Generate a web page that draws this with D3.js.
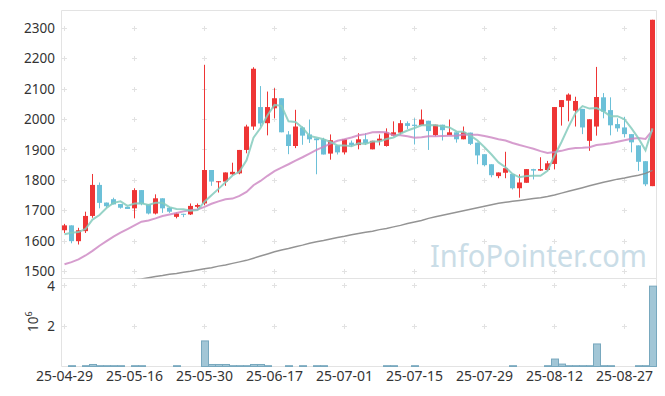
<!DOCTYPE html>
<html>
<head>
<meta charset="utf-8">
<script src="https://cdn.jsdelivr.net/npm/d3@7"></script>
<style>
  body { margin: 0; background: #fff; }
  text { font-family: "Noto Sans", sans-serif; fill: #333; }
</style>
</head>
<body>
<div id="chart"></div>
<script>
// trading days (yy-mm-dd)
var dates = ["25-04-29","25-04-30","25-05-02","25-05-07","25-05-08","25-05-09","25-05-12","25-05-13","25-05-14","25-05-15",
  "25-05-16","25-05-19","25-05-20","25-05-21","25-05-22","25-05-23","25-05-26","25-05-27","25-05-28","25-05-29",
  "25-05-30","25-06-02","25-06-04","25-06-05","25-06-09","25-06-10","25-06-11","25-06-12","25-06-13","25-06-16",
  "25-06-17","25-06-18","25-06-19","25-06-20","25-06-23","25-06-24","25-06-25","25-06-26","25-06-27","25-06-30",
  "25-07-01","25-07-02","25-07-03","25-07-04","25-07-07","25-07-08","25-07-09","25-07-10","25-07-11","25-07-14",
  "25-07-15","25-07-16","25-07-17","25-07-18","25-07-21","25-07-22","25-07-23","25-07-24","25-07-25","25-07-28",
  "25-07-29","25-07-30","25-07-31","25-08-01","25-08-04","25-08-05","25-08-06","25-08-07","25-08-08","25-08-11",
  "25-08-12","25-08-13","25-08-14","25-08-18","25-08-19","25-08-20","25-08-21","25-08-22","25-08-25","25-08-26",
  "25-08-27","25-08-28","25-08-29","25-09-01","25-09-02"];

var opens = [1636,1652,1600,1633,1683,1785,1727,1738,1722,1713,
  1708,1768,1721,1691,1741,1710,1680,1690,1688,1713,
  1724,1834,1795,1796,1820,1823,1900,1977,2041,1988,
  2037,2070,1951,1913,1974,1951,1938,1935,1888,1915,
  1892,1924,1916,1935,1902,1930,1913,1947,1957,1988,
  1983,1981,1996,1949,1983,1949,1958,1935,1957,1924,
  1886,1853,1814,1825,1821,1774,1792,1837,1832,1834,
  1854,2041,2062,2029,2035,1930,1977,2073,2031,1985,
  1974,1952,1915,1863,1781];
var highs = [1657,1652,1644,1697,1821,1793,1727,1743,1722,1713,
  1774,1768,1721,1754,1741,1712,1694,1690,1724,1724,
  2180,1834,1797,1826,1858,1900,1983,2172,2110,2092,
  2103,2070,1962,2032,1977,2000,1938,1940,1951,1915,
  1935,1931,1955,1955,1930,1951,1971,1994,1998,1994,
  2004,2033,1996,1983,1983,2000,1958,1977,1957,1924,
  1886,1853,1826,1894,1821,1820,1837,1838,1876,1864,
  2041,2064,2086,2075,2035,2001,2173,2087,2073,2004,
  2009,1952,1915,1863,2328];
var lows = [1627,1593,1589,1627,1677,1708,1711,1721,1707,1706,
  1675,1718,1688,1688,1693,1693,1675,1679,1686,1708,
  1718,1782,1760,1782,1817,1820,1889,1966,1977,1948,
  2004,1958,1886,1906,1917,1923,1820,1885,1868,1885,
  1885,1911,1902,1916,1902,1915,1911,1945,1951,1969,
  1918,1980,1900,1945,1931,1949,1924,1935,1916,1853,
  1846,1810,1807,1807,1770,1743,1792,1803,1831,1831,
  1836,1980,1994,1977,1952,1897,1947,2004,1948,1960,
  1941,1892,1831,1781,1781];
var closes = [1652,1600,1636,1683,1785,1726,1715,1721,1710,1706,
  1768,1722,1691,1741,1708,1697,1691,1688,1716,1719,
  1834,1796,1797,1826,1828,1900,1977,2167,1987,2041,
  2070,1958,1913,1977,1947,1935,1932,1885,1932,1892,
  1935,1916,1935,1922,1930,1937,1957,1958,1988,1979,
  1979,2000,1962,1983,1965,1958,1935,1958,1920,1882,
  1850,1817,1826,1840,1774,1793,1837,1832,1837,1856,
  2041,2064,2082,2061,1974,2001,2074,2026,1981,1971,
  1952,1925,1861,1787,2328];

// moving averages as drawn
var ma5 = [1623,1628,1630,1640,1671,1686,1709,1726,1731,1716,
  1724,1725,1719,1726,1726,1712,1706,1705,1700,1702,
  1730,1751,1772,1794,1816,1829,1866,1940,1972,2014,
  2048,2045,1994,1992,1973,1946,1941,1935,1926,1915,
  1915,1912,1922,1920,1928,1928,1936,1941,1954,1964,
  1972,1981,1982,1981,1978,1974,1961,1960,1947,1931,
  1909,1885,1859,1843,1821,1810,1814,1815,1815,1831,
  1881,1926,1976,2021,2044,2036,2038,2027,2011,2011,
  2001,1971,1938,1899,1971];
var ma20 = [1524,1531,1540,1553,1568,1585,1600,1615,1628,1640,
  1652,1664,1668,1675,1683,1688,1693,1698,1702,1704,
  1713,1723,1731,1738,1740,1749,1762,1784,1798,1815,
  1830,1842,1853,1865,1876,1888,1900,1910,1921,1930,
  1935,1941,1948,1952,1958,1959,1958,1948,1948,1945,
  1940,1942,1945,1945,1946,1947,1947,1951,1950,1950,
  1946,1941,1935,1931,1923,1916,1910,1904,1896,1890,
  1893,1897,1903,1906,1907,1909,1916,1919,1922,1927,
  1932,1937,1939,1936,1964];
var ma60 = [1437,1440,1444,1448,1451,1455,1458,1462,1466,1469,
  1473,1476,1480,1484,1487,1491,1494,1498,1501,1505,
  1509,1513,1518,1522,1527,1532,1537,1544,1551,1558,
  1565,1571,1576,1582,1587,1593,1598,1602,1607,1612,
  1616,1621,1625,1629,1633,1638,1642,1647,1652,1658,
  1663,1668,1675,1680,1685,1690,1695,1700,1705,1710,
  1715,1720,1725,1728,1731,1734,1737,1740,1743,1747,
  1752,1758,1764,1770,1776,1782,1788,1794,1799,1804,
  1808,1813,1817,1823,1833];

var volumes = [0,40000,0,40000,100000,40000,40000,40000,40000,0,
  40000,40000,0,0,0,0,40000,0,0,0,
  1270000,100000,100000,100000,40000,40000,40000,100000,100000,40000,
  0,0,40000,0,40000,0,40000,40000,0,0,
  0,0,0,0,0,0,40000,40000,0,0,
  40000,0,0,0,0,0,0,0,0,0,
  0,0,0,0,40000,0,0,0,0,40000,
  370000,120000,40000,40000,40000,40000,1120000,40000,40000,0,
  0,0,40000,40000,3990000];

var priceTicks = [1500,1600,1700,1800,1900,2000,2100,2200,2300];
var volTicks = [2,4];
var dateTicks = ["25-04-29","25-05-16","25-05-30","25-06-17","25-07-01","25-07-15","25-07-29","25-08-12","25-08-27"];

var width = 665,
    height = 396,
    plotLeft = 61.5,
    plotRight = 656.5,
    plotTop = 10.5,
    plotMid = 278.5,
    plotBottom = 366.5;

var rows = dates.map(function(d, i) {
  return {date: d, o: opens[i], h: highs[i], l: lows[i], c: closes[i], v: volumes[i],
          m5: ma5[i], m20: ma20[i], m60: ma60[i]};
});

var svg = d3.select("#chart")
    .append("svg")
    .attr("width", width)
    .attr("height", height);

var x = d3.scaleBand().domain(dates).range([61, 656]).padding(0);
var cx = function(d) { return x(d) + x.bandwidth() / 2; };

var y = d3.scaleLinear().domain([1477.3, 2358.5]).range([plotMid, plotTop]);
var yv = d3.scaleLinear().domain([0, 4.37]).range([plotBottom, plotMid]);

svg.append("defs").append("clipPath").attr("id", "clipPrice")
  .append("rect").attr("x", plotLeft).attr("y", plotTop)
  .attr("width", plotRight - plotLeft).attr("height", plotMid - plotTop);

// frame
var frame = svg.append("g").attr("stroke", "#e3e3e3").attr("stroke-width", 1);
frame.append("line").attr("x1", plotLeft).attr("x2", plotRight).attr("y1", plotTop).attr("y2", plotTop);
frame.append("line").attr("x1", plotLeft).attr("x2", plotRight).attr("y1", plotMid).attr("y2", plotMid);
frame.append("line").attr("x1", plotLeft).attr("x2", plotRight).attr("y1", plotBottom).attr("y2", plotBottom);
frame.append("line").attr("x1", plotLeft).attr("x2", plotLeft).attr("y1", plotTop).attr("y2", plotBottom);
frame.append("line").attr("x1", plotRight).attr("x2", plotRight).attr("y1", plotTop).attr("y2", plotBottom);

// grid crosses
var crossY = priceTicks.map(function(t) { return y(t); })
  .concat(volTicks.map(function(t) { return yv(t); }));
var crosses = [];
dateTicks.forEach(function(dt) {
  crossY.forEach(function(py) { crosses.push([cx(dt), py]); });
});
var grid = svg.append("g").attr("stroke", "#e2e2e2").attr("stroke-width", 1);
grid.selectAll("path.cross")
  .data(crosses).enter()
  .append("path")
  .attr("class", "cross")
  .attr("d", function(d) {
    var px = Math.round(d[0] - 0.5) + 0.5, py = Math.round(d[1] - 0.5) + 0.5;
    return "M" + (px - 2.5) + "," + py + "H" + (px + 2.5) + "M" + px + "," + (py - 2.5) + "V" + (py + 2.5);
  });

// watermark
svg.append("text")
  .attr("x", 430)
  .attr("y", 267)
  .attr("textLength", 217)
  .attr("lengthAdjust", "spacingAndGlyphs")
  .style("font-size", "31px")
  .style("fill", "#cadde7")
  .text("InfoPointer.com");

// candles
var up = "#ee3535", down = "#6cc0d8";
var candle = svg.append("g").attr("clip-path", "url(#clipPrice)")
  .selectAll("g.candle")
  .data(rows).enter()
  .append("g")
  .attr("class", "candle");

candle.append("line")
  .attr("x1", function(d) { return cx(d.date); })
  .attr("x2", function(d) { return cx(d.date); })
  .attr("y1", function(d) { return y(d.h); })
  .attr("y2", function(d) { return y(d.l); })
  .attr("stroke", function(d) { return d.c >= d.o ? up : down; })
  .attr("stroke-width", 1);

candle.append("rect")
  .attr("x", function(d) { return cx(d.date) - 2.5; })
  .attr("width", 5)
  .attr("y", function(d) { return y(Math.max(d.o, d.c)); })
  .attr("height", function(d) { return Math.max(1, Math.abs(y(d.o) - y(d.c))); })
  .attr("fill", function(d) { return d.c >= d.o ? up : down; });

// moving averages
var lines = svg.append("g").attr("clip-path", "url(#clipPrice)").attr("fill", "none");
function maLine(key) {
  return d3.line()
    .x(function(d) { return cx(d.date); })
    .y(function(d) { return y(d[key]); });
}
lines.append("path").datum(rows).attr("d", maLine("m60"))
  .attr("stroke", "#888").attr("stroke-width", 1.5).attr("stroke-opacity", 0.9);
lines.append("path").datum(rows).attr("d", maLine("m20"))
  .attr("stroke", "#cc84c2").attr("stroke-width", 2).attr("stroke-opacity", 0.8);
lines.append("path").datum(rows).attr("d", maLine("m5"))
  .attr("stroke", "#85cbbd").attr("stroke-width", 2).attr("stroke-opacity", 0.85);

// volume bars
svg.append("g")
  .selectAll("rect")
  .data(rows.filter(function(d) { return d.v > 0; })).enter()
  .append("rect")
  .attr("x", function(d) { return x(d.date) + 0.5; })
  .attr("width", x.bandwidth())
  .attr("y", function(d) { return yv(d.v / 1e6); })
  .attr("height", function(d) { return plotBottom - yv(d.v / 1e6); })
  .attr("fill", "#a2c6d6")
  .attr("stroke", "#78a8be")
  .attr("stroke-width", 1);

// y labels price
svg.append("g").selectAll("text")
  .data(priceTicks).enter()
  .append("text")
  .attr("x", 55)
  .attr("y", function(d) { return y(d); })
  .attr("dy", "0.35em")
  .attr("text-anchor", "end")
  .style("font-size", "13.5px")
  .text(function(d) { return d; });

// y labels volume
svg.append("g").selectAll("text")
  .data(volTicks).enter()
  .append("text")
  .attr("x", 55)
  .attr("y", function(d) { return yv(d); })
  .attr("dy", "0.35em")
  .attr("text-anchor", "end")
  .style("font-size", "13.5px")
  .text(function(d) { return d; });

var unit = svg.append("text")
  .attr("transform", "translate(38,332) rotate(-90)")
  .style("font-size", "13.5px");
unit.append("tspan").text("10");
unit.append("tspan").attr("dy", -6).style("font-size", "9px").text("6");

// x labels
svg.append("g").selectAll("text")
  .data(dateTicks).enter()
  .append("text")
  .attr("x", function(d) { return cx(d); })
  .attr("y", 381)
  .attr("text-anchor", "middle")
  .style("font-size", "14px")
  .text(function(d) { return d; });
</script>
</body>
</html>
